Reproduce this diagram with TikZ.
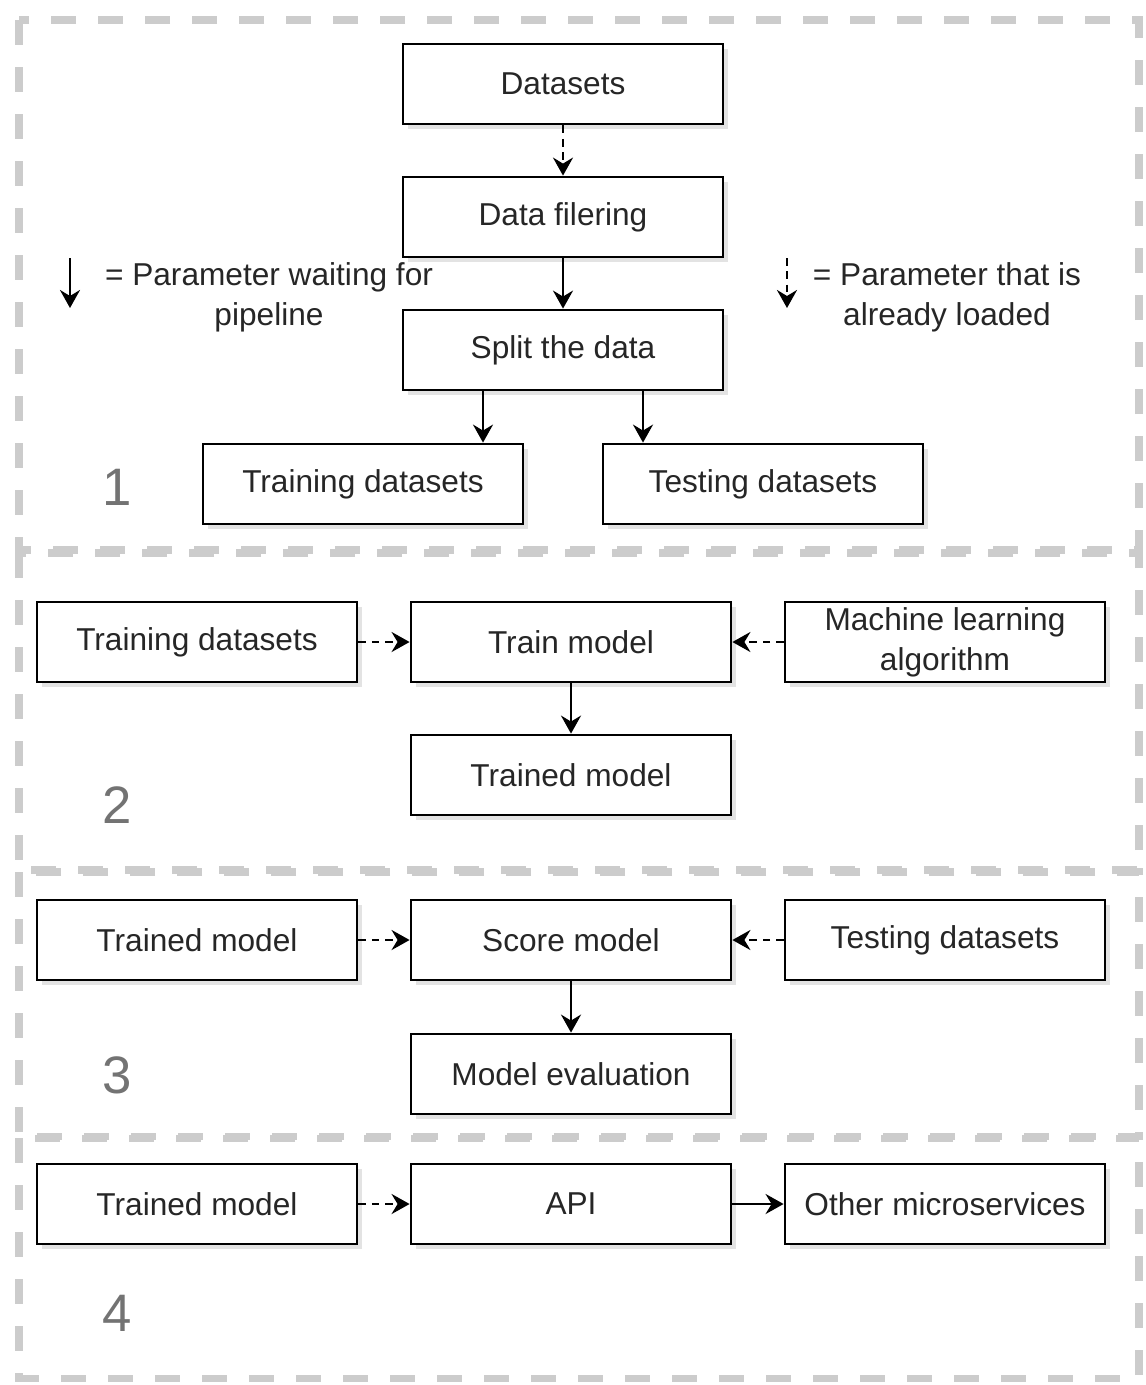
\documentclass[tikz,border=0pt]{standalone}
\usepackage{fontspec}
\setmainfont{Liberation Sans}
\usepackage{tikz}
\usetikzlibrary{arrows.meta,shadows}
\usepackage{xcolor}

\begin{document}
\begin{tikzpicture}[>={Stealth[length=1.8mm,width=2mm,inset=0.6mm]},line cap=butt,
  box/.style={draw,fill=white,line width=0.8pt,minimum width=3.2cm,minimum height=0.8cm,
    inner ysep=0.5pt,align=center,text=black!85,font=\fontsize{9}{11.3}\selectfont,
    drop shadow={shadow xshift=0.45mm,shadow yshift=-0.45mm,opacity=0.22}},
  legend/.style={align=center,text=black!85,font=\fontsize{9}{11.3}\selectfont},
  num/.style={text=black!55,font=\fontsize{15}{18}\selectfont},
  frame/.style={draw=gray!40,line width=2pt,dash pattern=on 0.25cm off 0.22cm},
  waitarr/.style={->,line width=0.8pt},
  loadarr/.style={->,line width=0.8pt,dash pattern=on 2.2pt off 1.6pt}]
\useasboundingbox (0,0) rectangle (11.45,-13.85);
% the four stages
\draw[frame] (0.19,-0.20) rectangle (11.39,-5.50);
\draw[frame] (0.19,-5.53) rectangle (11.39,-8.70);
\draw[frame] (0.19,-8.72) rectangle (11.39,-11.36);
\draw[frame] (0.19,-11.38) rectangle (11.39,-13.78);

% stage 1
\node[box] (datasets) at (5.63,-0.84) {Datasets};
\node[box] (filter) at (5.63,-2.17) {Data filering};
\node[box] (split) at (5.63,-3.50) {Split the data};
\node[box] (train1) at (3.63,-4.84) {Training datasets};
\node[box] (test1) at (7.63,-4.84) {Testing datasets};
\draw[loadarr] (datasets) -- (filter);
\draw[waitarr] (filter) -- (split);
\draw[waitarr] ([xshift=-8mm]split.south) -- ([xshift=12mm]train1.north);
\draw[waitarr] ([xshift=8mm]split.south) -- ([xshift=-12mm]test1.north);
\coordinate (wtop) at (0.70,-2.58);
\coordinate (wbot) at (0.70,-3.08);
\draw[waitarr] (wtop) -- (wbot);
\node[legend] (wtext) at (2.69,-2.97) {= Parameter waiting for\\pipeline};
\coordinate (ltop) at (7.87,-2.58);
\coordinate (lbot) at (7.87,-3.08);
\draw[loadarr] (ltop) -- (lbot);
\node[legend] (ltext) at (9.47,-2.97) {= Parameter that is\\already loaded};
\node[num] (n1) at (1.17,-4.87) {1};

% stage 2
\node[box] (train2) at (1.97,-6.42) {Training datasets};
\node[box] (trainm) at (5.71,-6.42) {Train model};
\node[box] (algo) at (9.45,-6.42) {Machine learning\\algorithm};
\node[box] (trained2) at (5.71,-7.75) {Trained model};
\draw[loadarr] (train2) -- (trainm);
\draw[loadarr] (algo) -- (trainm);
\draw[waitarr] (trainm) -- (trained2);
\node[num] (n2) at (1.17,-8.05) {2};

% stage 3
\node[box] (trained3) at (1.97,-9.40) {Trained model};
\node[box] (score) at (5.71,-9.40) {Score model};
\node[box] (test3) at (9.45,-9.40) {Testing datasets};
\node[box] (eval) at (5.71,-10.74) {Model evaluation};
\draw[loadarr] (trained3) -- (score);
\draw[loadarr] (test3) -- (score);
\draw[waitarr] (score) -- (eval);
\node[num] (n3) at (1.17,-10.75) {3};

% stage 4
\node[box] (trained4) at (1.97,-12.04) {Trained model};
\node[box] (api) at (5.71,-12.04) {API};
\node[box] (micro) at (9.45,-12.04) {Other microservices};
\draw[loadarr] (trained4) -- (api);
\draw[waitarr] (api) -- (micro);
\node[num] (n4) at (1.17,-13.13) {4};
\end{tikzpicture}
\end{document}
